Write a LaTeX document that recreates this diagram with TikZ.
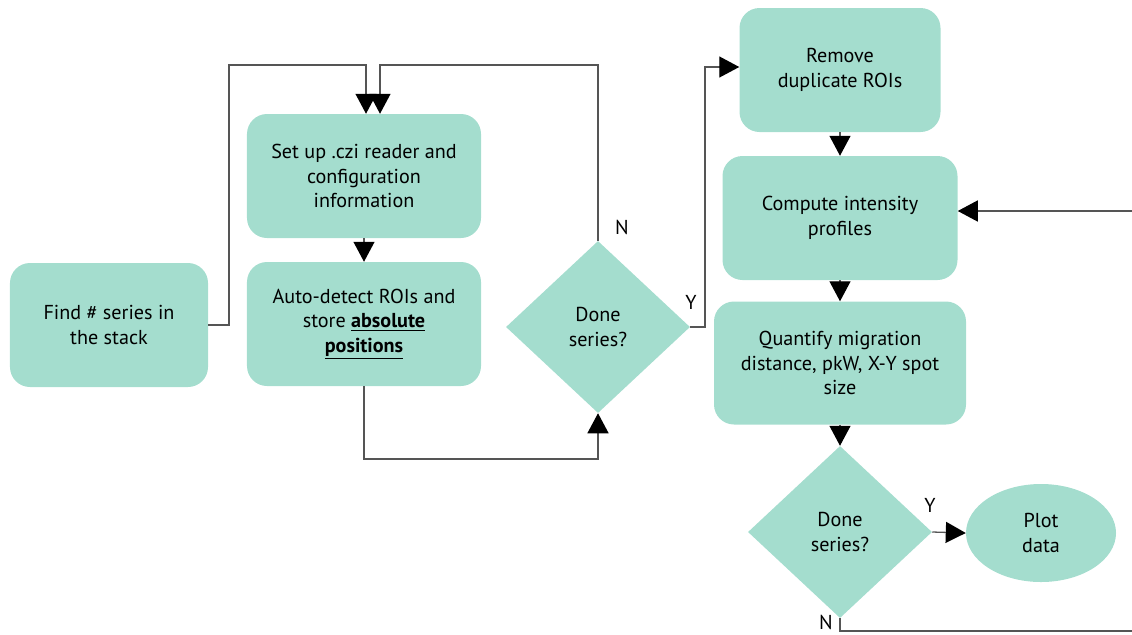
\documentclass[tikz,border=0pt]{standalone}
\usepackage{fontspec}
\setmainfont{PT Sans}
\usetikzlibrary{shapes.geometric,arrows.meta}
\definecolor{boxfill}{RGB}{164,221,206}
\definecolor{linec}{RGB}{85,85,85}
\tikzset{
  txt/.style={font=\fontsize{17.2pt}{21.2pt}\selectfont, text=black, align=center},
  rbox/.style={txt, fill=boxfill, rounded corners=0.6cm, inner sep=0pt},
  dbox/.style={txt, fill=boxfill, diamond, inner sep=0pt, minimum width=5.52cm, minimum height=5.16cm},
  ebox/.style={txt, fill=boxfill, ellipse, inner sep=0pt, minimum width=4.5cm, minimum height=2.94cm},
  conn/.style={draw=linec, line width=1.1pt},
  arr/.style={conn, -{Triangle[length=0.6cm, width=0.63cm, color=black]}, shorten >=0pt},
  lbl/.style={font=\fontsize{17.2pt}{21.2pt}\selectfont, text=black, inner sep=0pt}
}
\begin{document}
\begin{tikzpicture}[x=0.03cm, y=-0.03cm]
\useasboundingbox (0,0) rectangle (1132,634);
% nodes
\node[rbox, minimum width=5.94cm, minimum height=3.72cm] (find) at (109,325) {Find \# series in\\the stack};
\node[rbox, minimum width=7.02cm, minimum height=3.72cm] (setup) at (364,176) {Set up .czi reader and\\configuration\\information};
\node[rbox, minimum width=7.02cm, minimum height=3.72cm] (auto) at (364,324) {Auto-detect ROIs and\\store \textbf{\underline{absolute}}\\\textbf{\underline{positions}}};
\node[dbox] (d1) at (598,327) {Done\\series?};
\node[rbox, minimum width=6.03cm, minimum height=3.72cm] (remove) at (840,70) {Remove\\duplicate ROIs};
\node[rbox, minimum width=7.05cm, minimum height=3.72cm] (compute) at (840,218) {Compute intensity\\profiles};
\node[rbox, minimum width=7.56cm, minimum height=3.69cm] (quant) at (840,363) {Quantify migration\\distance, pkW, X-Y spot\\size};
\node[dbox] (d2) at (840,532) {Done\\series?};
\node[ebox] (plot) at (1041,533) {Plot\\data};
% corner coordinates
\coordinate (t1) at (229,65);
\coordinate (t2) at (598,65);
\coordinate (t3) at (364,459);
\coordinate (t4) at (705,67);
\coordinate (t5) at (840,631);
\coordinate (t6) at (1134,631);
\coordinate (t7) at (1134,211);
% connectors
\draw[arr] (find.east) -| (t1) -| ([xshift=0.06cm]setup.north);
\draw[arr] (d1.north) -- (t2) -| ([xshift=0.48cm]setup.north);
\draw[arr] (setup.south) -- (auto.north);
\draw[arr] (auto.south) -- (t3) -| (d1.south);
\draw[arr] (d1.east) -| (t4) -- (t4 -| remove.west);
\draw[arr] (remove.south) -- (compute.north);
\draw[arr] (compute.south) -- (quant.north);
\draw[arr] (quant.south) -- (d2.north);
\draw[arr] (d2.east) -- (plot.west);
\draw[arr] (d2.south) -- (t5) -- (t6) -- (t7) -- (t7 -| compute.east);
% labels
\node[lbl] (n1) at (622,227) {N};
\node[lbl] (y1) at (691,302) {Y};
\node[lbl] (y2) at (930,505) {Y};
\node[lbl] (n2) at (826,622) {N};
\end{tikzpicture}
\end{document}
